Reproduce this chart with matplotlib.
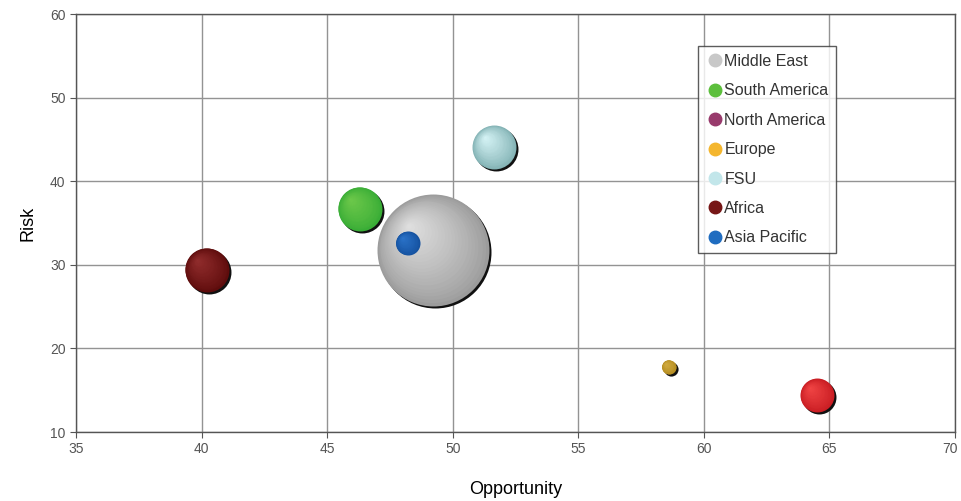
import numpy as np
import matplotlib.pyplot as plt
import matplotlib.colors as mcolors
from matplotlib.transforms import ScaledTranslation
from matplotlib.lines import Line2D

regions = ['Middle East', 'South America', 'North America', 'Europe',
           'FSU', 'Africa', 'Asia Pacific']
opportunity = [49.2, 46.3, 64.5, 58.6, 51.65, 40.2, 48.2]
risk = [31.8, 36.7, 14.4, 17.8, 44.1, 29.4, 32.6]
bubble_size = [100, 15.4, 9.2, 1.6, 15.4, 15.4, 4.6]

# sphere colours (edge, highlight) and the flat colours shown in the legend
edge_colors = ['#9c9c9c', '#39ad36', '#c81c22', '#b58d22', '#82b2b4', '#5e0c0c', '#1552a0']
light_colors = ['#dedede', '#6cc84a', '#f04444', '#d2ac40', '#d4f2f4', '#902c2c', '#2a72c8']
legend_colors = ['#c8c8c8', '#5cbf3c', '#983a6c', '#f4b62e', '#c2e6ea', '#761616', '#1f6cc0']

# order in which spheres are stacked (big one at the back)
draw_order = [0, 1, 4, 5, 3, 2, 6]

fig = plt.figure(figsize=(9.61, 5.01), dpi=100)
ax = fig.add_axes([0.0791, 0.1377, 0.9147, 0.8343])

ax.set_xlim(35, 70)
ax.set_ylim(10, 60)
ax.set_xticks(np.arange(35, 71, 5))
ax.set_yticks(np.arange(10, 61, 10))
ax.grid(True, color='#939393', linewidth=1.0)
ax.set_axisbelow(True)
for sp in ax.spines.values():
    sp.set_color('#555555')
    sp.set_linewidth(1.0)
ax.tick_params(direction='out', length=4, color='#555555', labelcolor='#555555',
               labelsize=10)
for lab in ax.get_xticklabels() + ax.get_yticklabels():
    lab.set_family(['Liberation Sans', 'DejaVu Sans'])
# keep the last x label inside the figure
last = ax.get_xticklabels()[-1]
last.set_transform(last.get_transform() +
                   ScaledTranslation(-5 / 100, 0, fig.dpi_scale_trans))

ax.set_xlabel('Opportunity', fontsize=13, family=['Liberation Sans', 'DejaVu Sans'],
              labelpad=18)
ax.set_ylabel('Risk', fontsize=13, family=['Liberation Sans', 'DejaVu Sans'],
              labelpad=10)

max_s = 6500.0
n_layers = 24
for i in draw_order:
    s = max_s * bubble_size[i] / 100.0
    r_pt = np.sqrt(s) / 2.0
    x, y = opportunity[i], risk[i]
    # drop shadow
    shadow = ax.transData + ScaledTranslation(1.4 / 72, -1.4 / 72, fig.dpi_scale_trans)
    ax.scatter([x], [y], s=s, color='#111111', linewidths=0, transform=shadow, zorder=3)
    c_edge = np.array(mcolors.to_rgb(edge_colors[i]))
    c_light = np.array(mcolors.to_rgb(light_colors[i]))
    for k in range(n_layers):
        f = 1.0 - k / n_layers
        t = (k / (n_layers - 1)) ** 0.8
        col = c_edge * (1 - t) + c_light * t
        off = (1 - f) * r_pt * 0.45
        tr = ax.transData + ScaledTranslation(-off / 72, off / 72, fig.dpi_scale_trans)
        ax.scatter([x], [y], s=s * f * f, color=col, linewidths=0,
                   transform=tr, zorder=4)

handles = [Line2D([], [], marker='o', linestyle='none', markersize=9,
                  markerfacecolor=c, markeredgecolor=c) for c in legend_colors]
leg = ax.legend(handles, regions, loc='upper left', bbox_to_anchor=(0.7076, 0.9234),
                borderaxespad=0, frameon=True, fancybox=False, fontsize=11.5,
                labelspacing=0.9, handletextpad=0.05, handlelength=1.1,
                borderpad=0.5)
leg.get_frame().set_edgecolor('#333333')
leg.get_frame().set_linewidth(1.0)
for txt in leg.get_texts():
    txt.set_color('#333333')
    txt.set_family(['Liberation Sans', 'DejaVu Sans'])

plt.savefig('out.png', dpi=100)
